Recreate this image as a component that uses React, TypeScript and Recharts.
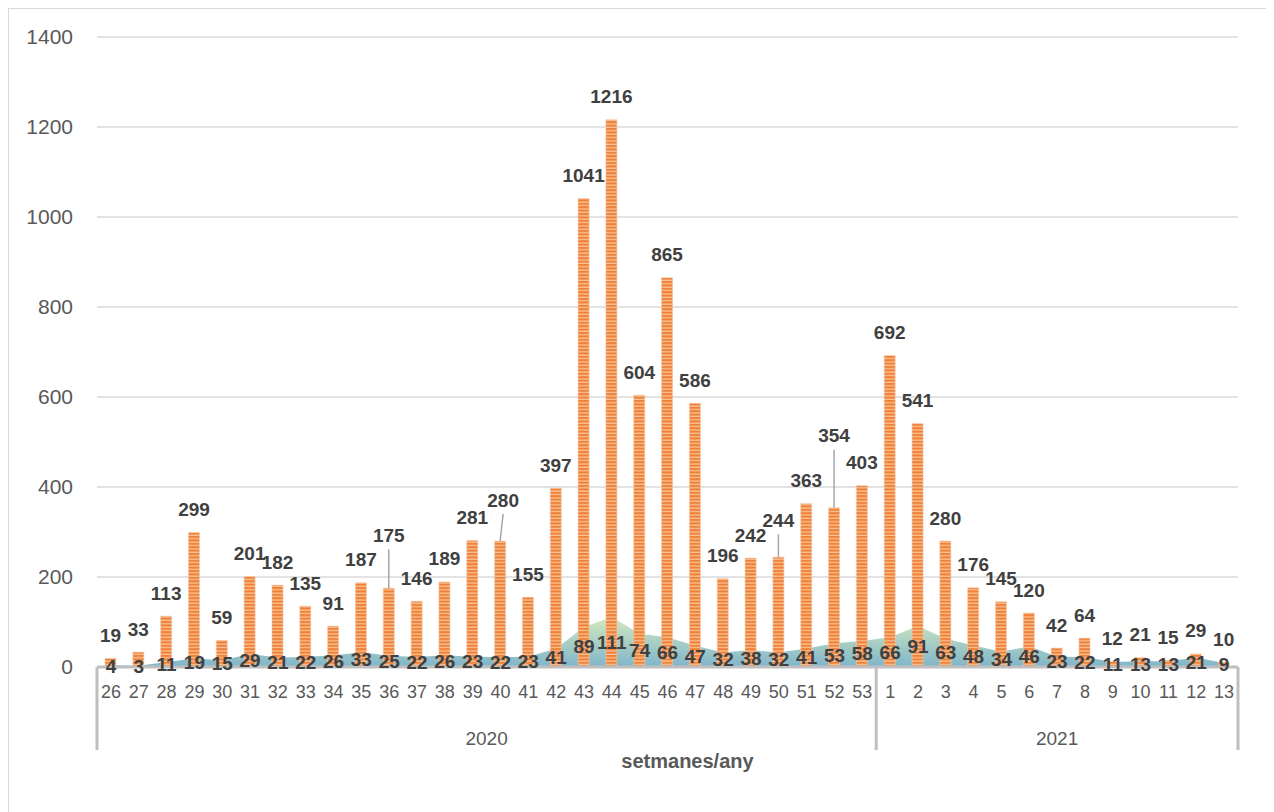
import React from 'react';
import { ComposedChart, Bar, Area, XAxis, YAxis, CartesianGrid, LabelList } from 'recharts';

const weeks = [
  '26', '27', '28', '29', '30', '31', '32', '33', '34', '35', '36', '37', '38', '39',
  '40', '41', '42', '43', '44', '45', '46', '47', '48', '49', '50', '51', '52', '53',
  '1', '2', '3', '4', '5', '6', '7', '8', '9', '10', '11', '12', '13',
];
const years = [
  ...Array(28).fill('2020'),
  ...Array(13).fill('2021'),
];
const casesSeries = [
  19, 33, 113, 299, 59, 201, 182, 135, 91, 187, 175, 146, 189, 281,
  280, 155, 397, 1041, 1216, 604, 865, 586, 196, 242, 244, 363, 354, 403,
  692, 541, 280, 176, 145, 120, 42, 64, 12, 21, 15, 29, 10,
];
const areaSeries = [
  4, 3, 11, 19, 15, 29, 21, 22, 26, 33, 25, 22, 26, 23,
  22, 23, 41, 89, 111, 74, 66, 47, 32, 38, 32, 41, 53, 58,
  66, 91, 63, 48, 34, 46, 23, 22, 11, 13, 13, 21, 9,
];
const yTicks = [0, 200, 400, 600, 800, 1000, 1200, 1400];

const data = weeks.map((w, i) => ({
  week: w,
  year: years[i],
  cases: casesSeries[i],
  area: areaSeries[i],
}));

const CHART_W = 1257;
const CHART_H = 800;
const MARGIN = { top: 28, right: 28, bottom: 42, left: 0 };
const YAXIS_W = 88;
const WEEK_AXIS_H = 50;
const YEAR_AXIS_H = 50;
const PLOT_W = CHART_W - MARGIN.left - MARGIN.right - YAXIS_W;
const PLOT_BOTTOM = CHART_H - MARGIN.bottom - WEEK_AXIS_H - YEAR_AXIS_H;
const BAND = PLOT_W / weeks.length;

const FONT = '"Liberation Sans", Arial, sans-serif';
const TEXT = '#595959';
const LABEL = '#404040';

// labels that Excel pushed up, with a leader line
const lifted: Record<number, { dy: number; dx: number }> = {
  10: { dy: 30, dx: 0 },
  14: { dy: 18, dx: 3 },
  24: { dy: 14, dx: 0 },
  26: { dy: 49, dx: 0 },
};

const BarLabel = (props: any) => {
  const { x, y, width, value, index } = props;
  const cx = x + width / 2;
  const lift = lifted[index];
  const ly = y - 23 - (lift ? lift.dy : 0);
  const lx = cx + (lift ? lift.dx : 0);
  return (
    <g>
      {lift && (
        <line x1={cx} y1={y} x2={lx} y2={ly + 14} stroke="#a6a6a6" strokeWidth={1.5} />
      )}
      <text
        x={lx}
        y={ly}
        textAnchor="middle"
        dominantBaseline="central"
        fill={LABEL}
        fontFamily={FONT}
        fontWeight="bold"
        fontSize={19}
      >
        {value}
      </text>
    </g>
  );
};

const AreaLabel = (props: any) => {
  const { x, y } = props;
  let { value } = props;
  if (Array.isArray(value)) value = value[value.length - 1];
  const mid = (y + PLOT_BOTTOM) / 2;
  return (
    <text
      x={x}
      y={mid}
      textAnchor="middle"
      dominantBaseline="central"
      fill={LABEL}
      fontFamily={FONT}
      fontWeight="bold"
      fontSize={19}
    >
      {value}
    </text>
  );
};

const YearTick = (props: any) => {
  const { x, y, index } = props;
  const yr = years[index];
  const isStart = index === 0 || years[index - 1] !== yr;
  const isLast = index === years.length - 1;
  const left = x - BAND / 2;
  const count = years.filter((v) => v === yr).length;
  const top = y - WEEK_AXIS_H;
  const bottom = y + 33;
  return (
    <g>
      {isStart && (
        <>
          <line x1={left} y1={top} x2={left} y2={bottom} stroke="#bfbfbf" strokeWidth={3} />
          <text
            x={left + (count * BAND) / 2}
            y={y + 21}
            textAnchor="middle"
            dominantBaseline="central"
            fill={TEXT}
            fontFamily={FONT}
            fontSize={19}
          >
            {yr}
          </text>
        </>
      )}
      {isLast && (
        <line x1={x + BAND / 2} y1={top} x2={x + BAND / 2} y2={bottom} stroke="#bfbfbf" strokeWidth={3} />
      )}
    </g>
  );
};

const AxisTitle = (props: any) => {
  const vb = props.viewBox || { x: YAXIS_W, y: PLOT_BOTTOM + WEEK_AXIS_H, width: PLOT_W, height: YEAR_AXIS_H };
  return (
    <text
      x={vb.x + vb.width / 2 + 20}
      y={vb.y + 44}
      textAnchor="middle"
      dominantBaseline="central"
      fill={TEXT}
      fontFamily={FONT}
      fontWeight="bold"
      fontSize={20}
    >
      setmanes/any
    </text>
  );
};

export default function App() {
  return (
    <div
      style={{
        width: CHART_W,
        height: 803,
        border: '1.5px solid #d9d9d9',
        background: '#fff',
        boxSizing: 'content-box',
      }}
    >
      <ComposedChart width={CHART_W} height={CHART_H} data={data} margin={MARGIN} barCategoryGap={0}>
        <defs>
          <pattern id="stripes" width="6" height="3.4" patternUnits="userSpaceOnUse">
            <rect width="6" height="3.4" fill="#f8c198" />
            <rect width="6" height="2.1" fill="#ef8136" />
          </pattern>
          <linearGradient id="areaFill" x1="0" y1="0" x2="0" y2="1">
            <stop offset="0%" stopColor="#d3e9be" />
            <stop offset="100%" stopColor="#7fb5cb" />
          </linearGradient>
        </defs>
        <CartesianGrid vertical={false} stroke="#d9d9d9" strokeWidth={1.3} />
        <YAxis
          width={YAXIS_W}
          domain={[0, 1400]}
          ticks={yTicks}
          axisLine={false}
          tickLine={false}
          tickSize={0}
          tickMargin={24}
          tick={{ fill: TEXT, fontFamily: FONT, fontSize: 21 }}
        />
        <XAxis
          dataKey="week"
          interval={0}
          height={WEEK_AXIS_H}
          axisLine={{ stroke: '#bfbfbf', strokeWidth: 3 }}
          tickLine={false}
          tickSize={0}
          tickMargin={18}
          tick={{ fill: TEXT, fontFamily: FONT, fontSize: 18 }}
        />
        <XAxis
          xAxisId="year"
          dataKey="year"
          interval={0}
          height={YEAR_AXIS_H}
          axisLine={false}
          tickLine={false}
          tickSize={0}
          tickMargin={0}
          tick={<YearTick />}
          label={{ content: <AxisTitle /> }}
        />
        <Area
          dataKey="area"
          type="linear"
          fill="url(#areaFill)"
          fillOpacity={1}
          stroke="none"
          isAnimationActive={false}
        />
        <Bar
          dataKey="cases"
          barSize={11}
          fill="url(#stripes)"
          stroke="#f6c4a0"
          strokeWidth={0.6}
          isAnimationActive={false}
        >
          <LabelList dataKey="cases" content={<BarLabel />} />
        </Bar>
        <Area
          dataKey="area"
          type="linear"
          fill="none"
          stroke="none"
          isAnimationActive={false}
        >
          <LabelList dataKey="area" content={<AreaLabel />} />
        </Area>
      </ComposedChart>
    </div>
  );
}
